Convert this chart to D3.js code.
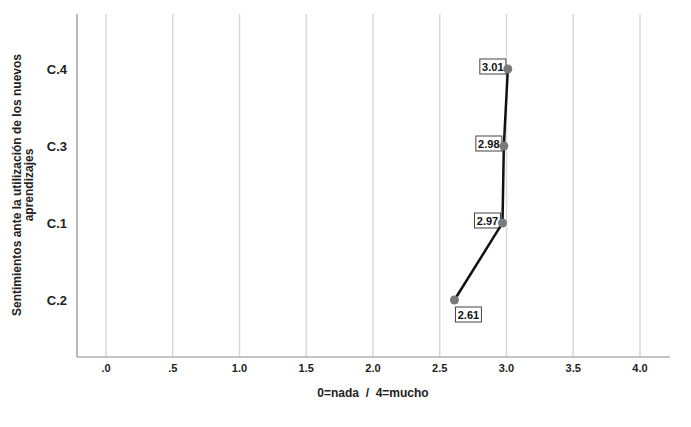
<!DOCTYPE html>
<html><head><meta charset="utf-8">
<script src="https://cdn.jsdelivr.net/npm/d3@7"></script>
<style>body{margin:0;background:#fff}svg{font-family:Arial,"Liberation Sans",sans-serif}</style>
</head><body><svg id="c" width="691" height="427"></svg>
<script>
const categories = ["C.4","C.3","C.1","C.2"];
const values = [3.01, 2.98, 2.97, 2.61];
const labels = ["3.01","2.98","2.97","2.61"];
const xTicks = [0,0.5,1,1.5,2,2.5,3,3.5,4];
const xTickLabels = [".0",".5","1.0","1.5","2.0","2.5","3.0","3.5","4.0"];

(function(){
const svg = d3.select("#c");
const x = d3.scaleLinear().domain([0,4]).range([106,640]);
const y = d3.scalePoint().domain(categories).range([69,300]);
const pTop = 14, pBottom = 357, pLeft = 77, pRight = 670;

// gridlines
svg.append("g").selectAll("line").data(xTicks).join("line")
  .attr("x1", d=>x(d)).attr("x2", d=>x(d)).attr("y1", pTop).attr("y2", pBottom)
  .attr("stroke","#d9d9d9").attr("stroke-width",1.5);

// axes lines
svg.append("line").attr("x1",pLeft).attr("x2",pLeft).attr("y1",pTop).attr("y2",pBottom).attr("stroke","#8c8c8c").attr("stroke-width",1.2);
svg.append("line").attr("x1",pLeft).attr("x2",pRight).attr("y1",pBottom).attr("y2",pBottom).attr("stroke","#8c8c8c").attr("stroke-width",1.2);

// x tick labels
svg.append("g").selectAll("text").data(xTicks).join("text")
  .attr("x", d=>x(d)).attr("y", 372).attr("text-anchor","middle")
  .attr("font-size",11).attr("font-weight","bold").attr("fill","#222")
  .text((d,i)=>xTickLabels[i]);

// y tick labels
svg.append("g").selectAll("text").data(categories).join("text")
  .attr("x", 67).attr("y", d=>y(d)).attr("dy","0.35em").attr("text-anchor","end")
  .attr("font-size",13).attr("font-weight","bold").attr("fill","#222")
  .text(d=>d);

// axis titles
svg.append("text").attr("x", 373).attr("y", 397).attr("text-anchor","middle")
  .attr("font-size",12).attr("font-weight","bold").attr("fill","#222")
  .attr("xml:space","preserve").text("0=nada  /  4=mucho");
const yt = svg.append("text").attr("transform","translate(0,185) rotate(-90)")
  .attr("text-anchor","middle").attr("font-size",12).attr("font-weight","bold").attr("fill","#222");
yt.append("tspan").attr("x",0).attr("y",21).text("Sentimientos ante la utilización de los nuevos");
yt.append("tspan").attr("x",0).attr("y",33).text("aprendizajes");

const data = categories.map((c,i)=>({c, v: values[i], l: labels[i]}));

// data labels
const lg = svg.append("g").selectAll("g").data(data).join("g")
  .attr("transform", (d,i)=> i===3
     ? `translate(${x(d.v)+1},${y(d.c)+7})`
     : `translate(${x(d.v)-28},${y(d.c)-10})`);
lg.append("rect").attr("width",26).attr("height",15).attr("fill","#fff").attr("stroke","#444").attr("stroke-width",1);
lg.append("text").attr("x",13).attr("y",11.5).attr("text-anchor","middle")
  .attr("font-size",11).attr("font-weight","bold").attr("fill","#111").text(d=>d.l);

// line
svg.append("path").datum(data)
  .attr("d", d3.line().x(d=>x(d.v)).y(d=>y(d.c)))
  .attr("fill","none").attr("stroke","#111").attr("stroke-width",2.5);

// points
svg.append("g").selectAll("circle").data(data).join("circle")
  .attr("cx", d=>x(d.v)).attr("cy", d=>y(d.c)).attr("r",4.5).attr("fill","#7a7a7a");
})();
</script></body></html>
